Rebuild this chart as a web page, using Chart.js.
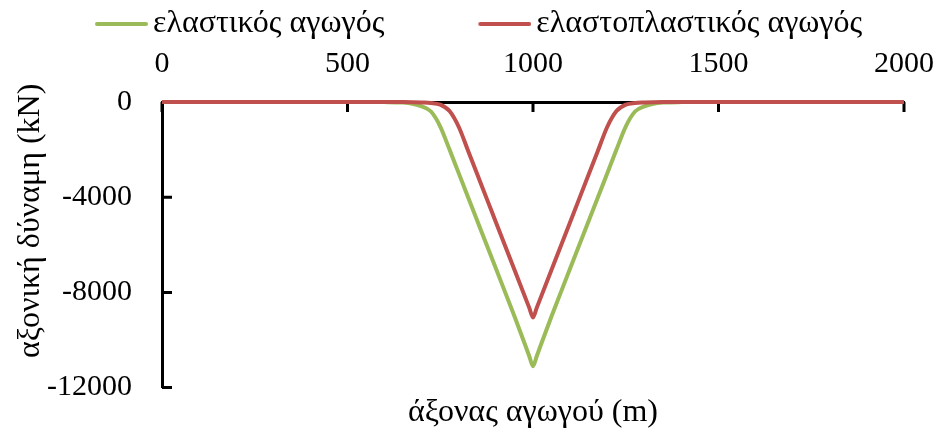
<!DOCTYPE html>
<html>
<head>
<meta charset="utf-8">
<script src="https://cdn.jsdelivr.net/npm/chart.js@4.4.0/dist/chart.umd.min.js"></script>
<style>
  body { margin: 0; background: #fff; }
</style>
</head>
<body>
<canvas id="myChart" width="937" height="440"></canvas>
<script>
  // pipe axis position (m) and axial force (kN)
  const positions = [0, 250, 500, 600, 650, 675, 700, 725, 750, 775,
                     800, 825, 850, 875, 900, 950, 990, 1000, 1010, 1050,
                     1100, 1125, 1150, 1175, 1200, 1225, 1250, 1275, 1300, 1325,
                     1350, 1400, 1500, 1750, 2000];
  const elastic = [0, 0, 0, -5, -25, -70, -180, -400, -1030, -2000,
                   -3000, -4000, -5000, -6000, -7000, -9000, -10680, -11100, -10680, -9000,
                   -7000, -6000, -5000, -4000, -3000, -2000, -1030, -400, -180, -70,
                   -25, -5, 0, 0, 0];
  const elastoplastic = [0, 0, 0, 0, -5, -10, -20, -40, -110, -380,
                         -1050, -2050, -3050, -4050, -5050, -7050, -8650, -9050, -8650, -7050,
                         -5050, -4050, -3050, -2050, -1050, -380, -110, -40, -20, -10,
                         -5, 0, 0, 0, 0];
  const seriesNames = ['ελαστικός αγωγός', 'ελαστοπλαστικός αγωγός'];
  const xTicks = [0, 500, 1000, 1500, 2000];
  const yTicks = [0, -4000, -8000, -12000];
  const xTitle = 'άξονας αγωγού (m)';
  const yTitle = 'αξονική δύναμη (kN)';

  const green = '#9BBB59';
  const red = '#C0504D';
  const greekFont = { size: 32 };

  Chart.defaults.font.family = '"Liberation Serif", "Times New Roman", serif';
  Chart.defaults.font.size = 30;
  Chart.defaults.color = '#000';

  // legend swatch: short line sitting just before the label text
  function swatch(color) {
    const c = document.createElement('canvas');
    c.width = 150; c.height = 8;
    const g = c.getContext('2d');
    g.strokeStyle = color; g.lineWidth = 4; g.lineCap = 'round';
    g.beginPath(); g.moveTo(99, 4); g.lineTo(148, 4); g.stroke();
    return c;
  }

  // tick marks pointing into the plot, like the original
  const innerTicks = {
    id: 'innerTicks',
    beforeDatasetsDraw(chart) {
      const {ctx, chartArea, scales} = chart;
      ctx.save();
      ctx.strokeStyle = '#000';
      ctx.lineWidth = 3;
      ctx.beginPath();
      xTicks.forEach(v => {
        const px = scales.x.getPixelForValue(v);
        ctx.moveTo(px, chartArea.top);
        ctx.lineTo(px, chartArea.top + 10);
      });
      yTicks.forEach(v => {
        const py = scales.y.getPixelForValue(v);
        ctx.moveTo(chartArea.left, py);
        ctx.lineTo(chartArea.left + 10, py);
      });
      ctx.stroke();
      ctx.restore();
    }
  };

  const toPoints = vals => positions.map((p, i) => ({x: p, y: vals[i]}));

  const ctx = document.getElementById('myChart').getContext('2d');
  const myChart = new Chart(ctx, {
    type: 'line',
    data: {
      datasets: [{
        label: seriesNames[0],
        data: toPoints(elastic),
        borderColor: green,
        backgroundColor: green,
        borderWidth: 4,
        pointRadius: 0,
        pointStyle: swatch(green),
        cubicInterpolationMode: 'monotone',
        clip: false,
        order: 1
      }, {
        label: seriesNames[1],
        data: toPoints(elastoplastic),
        borderColor: red,
        backgroundColor: red,
        borderWidth: 4,
        pointRadius: 0,
        pointStyle: swatch(red),
        cubicInterpolationMode: 'monotone',
        clip: false,
        order: 0
      }]
    },
    options: {
      responsive: false,
      animation: false,
      layout: { padding: { left: 1, right: 33, top: 0, bottom: 0 } },
      plugins: {
        legend: {
          position: 'top',
          align: 'start',
          labels: {
            usePointStyle: true,
            pointStyleWidth: 128,
            padding: 8,
            font: greekFont,
            sort: (a, b) => a.datasetIndex - b.datasetIndex
          }
        },
        tooltip: { enabled: false }
      },
      scales: {
        x: {
          type: 'linear',
          position: 'top',
          min: 0,
          max: 2000,
          afterBuildTicks: s => { s.ticks = xTicks.map(v => ({value: v})); },
          afterFit: s => { s.height = 52; s.paddingLeft = 0; s.paddingRight = 0; },
          ticks: { padding: 23, font: { lineHeight: 1 }, callback: v => String(v) },
          grid: { display: false, drawTicks: false },
          border: { color: '#000', width: 3 }
        },
        xb: {
          type: 'linear',
          position: 'bottom',
          ticks: { display: false },
          grid: { display: false, drawTicks: false },
          border: { display: false },
          title: { display: true, text: xTitle, font: greekFont, padding: { top: 6, bottom: 8 } }
        },
        y: {
          type: 'linear',
          min: -12000,
          max: 0,
          afterBuildTicks: s => { s.ticks = yTicks.map(v => ({value: v})); },
          afterFit: s => { s.width = 161; },
          ticks: { padding: 30, callback: v => String(v) },
          grid: { display: false, drawTicks: false },
          border: { color: '#000', width: 3 },
          // leading spaces nudge the title up, as it sits above centre in the original
          title: { display: true, text: '      ' + yTitle, font: greekFont, padding: { top: 10, bottom: 0 } }
        }
      }
    },
    plugins: [innerTicks]
  });
</script>
</body>
</html>
